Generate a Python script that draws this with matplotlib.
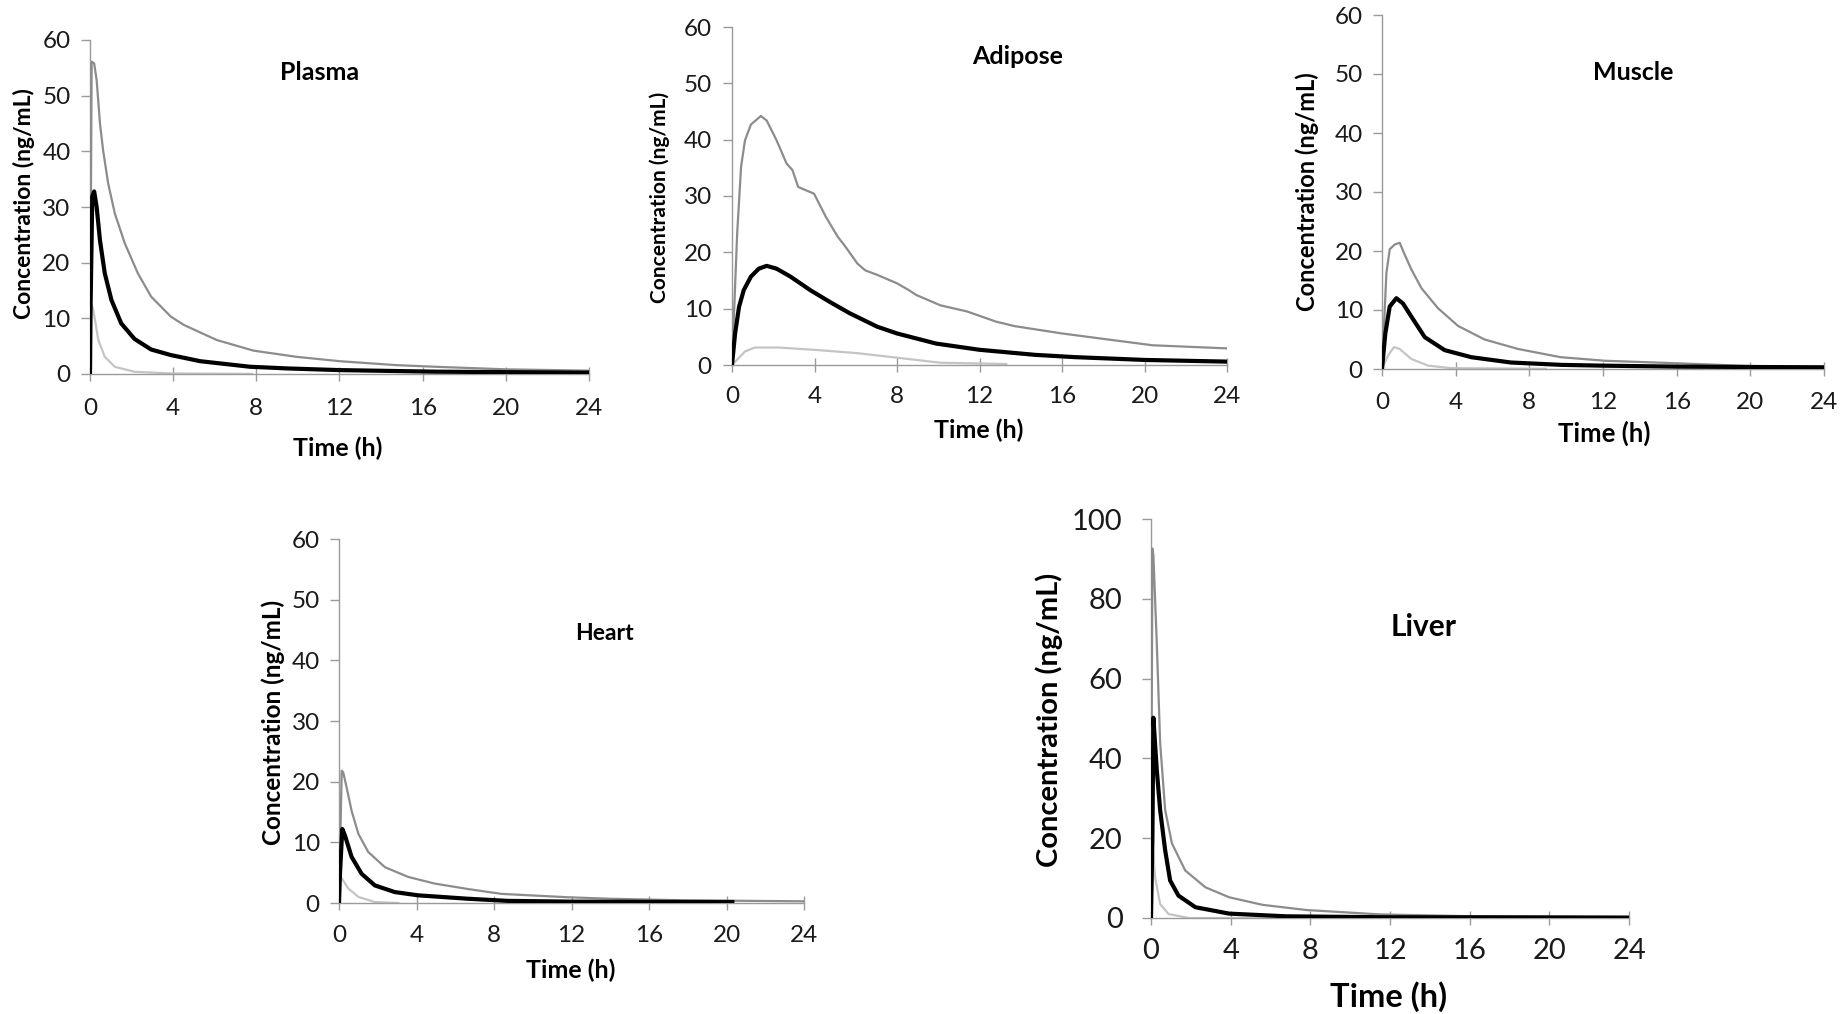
import matplotlib
matplotlib.use("Agg")
import matplotlib.pyplot as plt

plt.rcParams['font.family'] = ['Lato', 'DejaVu Sans']

W, H = 1848, 1014

# ---------------- data (time in h, concentration in ng/mL) ----------------
plasma_t_hi = [0, 0.08, 0.2, 0.32, 0.48, 0.63, 0.87, 1.19, 1.67, 2.3, 2.94, 3.89, 4.52, 6.1, 7.86, 9.9, 12, 14.7, 16.6, 20, 24]
plasma_hi = [0, 56.1, 55.8, 52.8, 45, 40.2, 34.3, 28.9, 23.5, 18.1, 13.9, 10.3, 8.8, 6.1, 4.2, 3.1, 2.3, 1.6, 1.3, 0.84, 0.6]
plasma_t_mean = [0, 0.03, 0.11, 0.2, 0.32, 0.48, 0.71, 1.03, 1.5, 2.14, 2.94, 3.89, 5.3, 7.7, 9.5, 12, 16.6, 24]
plasma_mean = [0, 12.7, 31.9, 32.8, 30, 24, 18.1, 13.3, 9.1, 6.3, 4.4, 3.4, 2.3, 1.3, 1.0, 0.7, 0.42, 0.24]
plasma_t_lo = [0, 0.05, 0.16, 0.4, 0.71, 1.19, 2.14, 3.9, 7.8]
plasma_lo = [0, 12.7, 11.5, 6.1, 3.1, 1.3, 0.4, 0.1, 0.02]

adipose_t_hi = [0, 0.25, 0.44, 0.63, 0.92, 1.4, 1.68, 2.16, 2.64, 2.93, 3.21, 3.98, 4.55, 5.12, 5.5, 6.08, 6.46, 7.04, 8.0, 8.57, 8.95, 10.1, 11.4, 12.8, 13.7, 16.0, 18.5, 20.4, 24]
adipose_hi = [0, 23.3, 35.2, 39.9, 42.7, 44.2, 43.4, 39.9, 35.8, 34.6, 31.6, 30.4, 26.3, 22.8, 21.0, 18.0, 16.8, 16.0, 14.5, 13.3, 12.4, 10.6, 9.5, 7.7, 6.9, 5.6, 4.4, 3.5, 2.95]
adipose_t_mean = [0, 0.15, 0.34, 0.57, 0.92, 1.3, 1.68, 2.16, 2.83, 3.79, 4.74, 5.7, 7.04, 8.0, 9.9, 12, 14.7, 16.6, 20, 24]
adipose_mean = [0, 5.6, 10.3, 13.3, 15.7, 17.1, 17.6, 17.1, 15.7, 13.3, 11.2, 9.2, 6.8, 5.6, 3.8, 2.7, 1.8, 1.4, 0.9, 0.6]
adipose_t_lo = [0, 0.63, 1.1, 2.26, 3.98, 6.08, 8.0, 10.1, 13.3]
adipose_lo = [0, 2.4, 3.1, 3.1, 2.7, 2.1, 1.3, 0.4, 0.18]

muscle_t_hi = [0, 0.24, 0.42, 0.69, 0.96, 1.23, 1.59, 2.14, 3.04, 4.13, 5.57, 7.38, 9.7, 12.1, 16.1, 20, 24]
muscle_hi = [0, 16.3, 20.3, 21.1, 21.4, 19.4, 16.9, 13.7, 10.3, 7.3, 5.0, 3.4, 2.0, 1.4, 0.96, 0.5, 0.4]
muscle_t_mean = [0, 0.18, 0.42, 0.78, 1.14, 1.59, 2.32, 3.4, 4.85, 7.0, 9.74, 12.1, 16.1, 24]
muscle_mean = [0, 6.0, 10.6, 12.0, 11.1, 8.9, 5.4, 3.2, 2.0, 1.1, 0.7, 0.56, 0.4, 0.28]
muscle_t_lo = [0, 0.33, 0.65, 0.96, 1.59, 2.5, 3.76, 8.9]
muscle_lo = [0, 2.3, 3.7, 3.4, 1.7, 0.57, 0.15, 0.03]

heart_t_hi = [0, 0.14, 0.22, 0.39, 0.65, 1.0, 1.51, 2.37, 3.57, 4.94, 6.66, 8.4, 11.8, 14, 17.8, 24]
heart_hi = [0, 21.8, 21.5, 19.1, 15.2, 11.4, 8.4, 5.9, 4.3, 3.2, 2.3, 1.5, 0.95, 0.7, 0.44, 0.28]
heart_t_mean = [0, 0.05, 0.17, 0.31, 0.65, 1.17, 1.85, 2.88, 4.09, 6.66, 8.7, 12.1, 20.3]
heart_mean = [0, 4.8, 12.2, 11.1, 7.6, 4.8, 2.9, 1.8, 1.26, 0.7, 0.35, 0.22, 0.16]
heart_t_lo = [0, 0.05, 0.48, 1.0, 1.85, 3.06]
heart_lo = [0, 4.5, 2.4, 1.0, 0.16, 0.0]

liver_t_hi = [0, 0.07, 0.12, 0.29, 0.46, 0.71, 1.05, 1.72, 2.73, 3.92, 5.6, 7.8, 11.5, 15.5, 24]
liver_hi = [0, 92.6, 90.9, 69, 43.9, 27.1, 18.7, 11.9, 7.7, 5.2, 3.3, 2.0, 0.9, 0.5, 0.25]
liver_t_mean = [0, 0.07, 0.12, 0.29, 0.46, 0.71, 0.96, 1.38, 2.23, 3.92, 6.8, 11.5, 24]
liver_mean = [0, 20, 50.2, 37.1, 27, 17, 9.4, 5.6, 2.7, 1.1, 0.42, 0.2, 0.1]
liver_t_lo = [0, 0.07, 0.2, 0.46, 0.88, 1.9, 6.0]
liver_lo = [0, 19.5, 10.3, 3.5, 1.0, 0.0, 0.0]

x_ticks = [0, 4, 8, 12, 16, 20, 24]
titles = ["Plasma", "Adipose", "Muscle", "Heart", "Liver"]
xlabel = "Time (h)"
ylabel = "Concentration (ng/mL)"

# ---------------- layout (pixels) ----------------
panels = [
    dict(title=titles[0], box=(90, 589, 40, 374), ymax=60, ystep=10,
         hi=(plasma_t_hi, plasma_hi), mean=(plasma_t_mean, plasma_mean), lo=(plasma_t_lo, plasma_lo),
         tpos=(320, 72), xlpos=(338, 448), ylpos=(24, 204),
         tick_fs=17.5, lab_fs=18, ylab_fs=16.5, title_fs=18, xpad=12.5, ypad=7.5),
    dict(title=titles[1], box=(732, 1227, 27, 365), ymax=60, ystep=10,
         hi=(adipose_t_hi, adipose_hi), mean=(adipose_t_mean, adipose_mean), lo=(adipose_t_lo, adipose_lo),
         tpos=(1018, 57), xlpos=(979, 430), ylpos=(660, 197),
         tick_fs=17.5, lab_fs=18, ylab_fs=15, title_fs=18, xpad=10.5, ypad=8),
    dict(title=titles[2], box=(1382, 1824, 15, 369), ymax=60, ystep=10,
         hi=(muscle_t_hi, muscle_hi), mean=(muscle_t_mean, muscle_mean), lo=(muscle_t_lo, muscle_lo),
         tpos=(1633, 72), xlpos=(1604, 433), ylpos=(1307, 192),
         tick_fs=17.5, lab_fs=18.5, ylab_fs=17, title_fs=18, xpad=11.5, ypad=7.3),
    dict(title=titles[3], box=(339, 804, 539, 903), ymax=60, ystep=10,
         hi=(heart_t_hi, heart_hi), mean=(heart_t_mean, heart_mean), lo=(heart_t_lo, heart_lo),
         tpos=(604, 634), xlpos=(571, 970), ylpos=(273, 722),
         tick_fs=17.5, lab_fs=18, ylab_fs=17.5, title_fs=16.5, xpad=11, ypad=7.3),
    dict(title=titles[4], box=(1151, 1629, 519, 918), ymax=100, ystep=20,
         hi=(liver_t_hi, liver_hi), mean=(liver_t_mean, liver_mean), lo=(liver_t_lo, liver_lo),
         tpos=(1424, 627), xlpos=(1389, 997), ylpos=(1049, 720),
         tick_fs=21, lab_fs=23.5, ylab_fs=21, title_fs=21.5, xpad=10, ypad=14),
]

fig = plt.figure(figsize=(W / 100, H / 100), dpi=100)
fig.patch.set_facecolor("white")

axis_col = "#9a9a9a"

for p in panels:
    l, r, t, b = p["box"]
    ax = fig.add_axes([l / W, 1 - b / H, (r - l) / W, (b - t) / H])
    ax.plot(*p["lo"], color="#c4c4c4", lw=1.6, zorder=2, solid_joinstyle="round")
    ax.plot(*p["hi"], color="#8c8c8c", lw=1.6, zorder=3, solid_joinstyle="round")
    ax.plot(*p["mean"], color="black", lw=3.0, zorder=4, solid_joinstyle="round")
    ax.set_xlim(0, 24)
    ax.set_ylim(0, p["ymax"])
    ax.set_xticks(x_ticks)
    ax.set_yticks(list(range(0, p["ymax"] + 1, p["ystep"])))
    for s in ["top", "right"]:
        ax.spines[s].set_visible(False)
    for s in ["left", "bottom"]:
        ax.spines[s].set_color(axis_col)
        ax.spines[s].set_linewidth(1.0)
    ax.tick_params(axis="y", direction="out", length=6.5, width=1.0, color=axis_col,
                   labelsize=p["tick_fs"], pad=p["ypad"], labelcolor="#1a1a1a")
    ax.tick_params(axis="x", direction="inout", length=9.5, width=1.0, color=axis_col,
                   labelsize=p["tick_fs"], pad=p["xpad"], labelcolor="#1a1a1a")
    ax.set_facecolor("none")

    xl = ax.set_xlabel(xlabel, fontsize=p["lab_fs"], fontweight="bold")
    xl.set_verticalalignment("center")
    ax.xaxis.set_label_coords((p["xlpos"][0] - l) / (r - l), (b - p["xlpos"][1]) / (b - t))
    yl = ax.set_ylabel(ylabel, fontsize=p["ylab_fs"], fontweight="bold")
    yl.set_verticalalignment("center")
    ax.yaxis.set_label_coords((p["ylpos"][0] - l) / (r - l), (b - p["ylpos"][1]) / (b - t))

    ax.text((p["tpos"][0] - l) / (r - l), (b - p["tpos"][1]) / (b - t), p["title"],
            transform=ax.transAxes, ha="center", va="center",
            fontsize=p["title_fs"], fontweight="bold")

fig.savefig("out.png", dpi=100, facecolor="white")
